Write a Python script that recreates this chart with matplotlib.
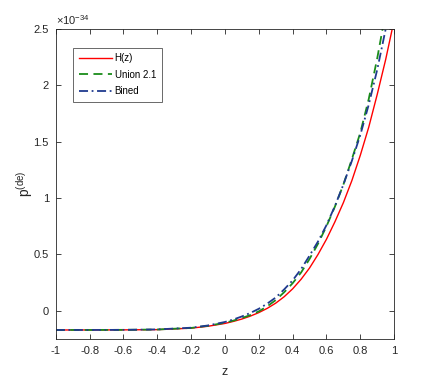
import matplotlib
matplotlib.use("Agg")
import matplotlib.pyplot as plt

plt.rcParams['font.family'] = ['Liberation Sans', 'DejaVu Sans']
plt.rcParams['mathtext.fontset'] = 'custom'
plt.rcParams['mathtext.rm'] = 'Liberation Sans'
plt.rcParams['mathtext.it'] = 'Liberation Sans'

# values (units of 1e-34)
z = [-1.0, -0.8, -0.6, -0.4, -0.2, -0.1, 0.0, 0.05, 0.1, 0.15, 0.2, 0.25, 0.3,
     0.35, 0.4, 0.45, 0.5, 0.55, 0.6, 0.65, 0.7, 0.75, 0.8, 0.85, 0.9, 0.95, 1.0]
p_hz = [-0.170, -0.170, -0.169, -0.167, -0.154, -0.137, -0.112, -0.094, -0.073,
        -0.047, -0.016, 0.022, 0.068, 0.125, 0.195, 0.28, 0.38, 0.50, 0.635,
        0.79, 0.96, 1.155, 1.38, 1.63, 1.92, 2.23, 2.58]
p_union = [-0.170, -0.170, -0.169, -0.166, -0.152, -0.133, -0.106, -0.087, -0.064,
           -0.038, -0.005, 0.04, 0.095, 0.165, 0.245, 0.34, 0.46, 0.595, 0.75,
           0.925, 1.12, 1.345, 1.58, 1.88, 2.24, 2.65, 3.1]
p_bined = [-0.170, -0.170, -0.169, -0.165, -0.150, -0.130, -0.099, -0.077, -0.05,
           -0.019, 0.018, 0.064, 0.118, 0.19, 0.27, 0.37, 0.49, 0.615, 0.76,
           0.93, 1.12, 1.33, 1.56, 1.83, 2.14, 2.50, 2.90]
labels = ['H(z)', 'Union 2.1', 'Bined']

fig = plt.figure(figsize=(4.36, 3.82), dpi=100)
ax = fig.add_axes([0.128, 0.1126, 0.776, 0.8114])

ax.plot(z, p_hz, color='#ff0000', lw=1.0, ls='-', label=labels[0])
ax.plot(z, p_union, color='#1a8c1a', lw=1.3, ls=(0, (5, 3)), label=labels[1])
ax.plot(z, p_bined, color='#1f3a8f', lw=1.3, ls=(0, (5, 2, 1, 2)), label=labels[2])

ax.set_xlim(-1, 1)
ax.set_ylim(-0.25, 2.5)
ax.set_xticks([-1, -0.8, -0.6, -0.4, -0.2, 0, 0.2, 0.4, 0.6, 0.8, 1])
ax.set_xticklabels(['-1', '-0.8', '-0.6', '-0.4', '-0.2', '0', '0.2', '0.4', '0.6', '0.8', '1'])
ax.set_yticks([0, 0.5, 1, 1.5, 2, 2.5])
ax.set_yticklabels(['0', '0.5', '1', '1.5', '2', '2.5'])
ax.tick_params(direction='in', top=True, right=True, length=3.5, width=0.6,
               labelsize=8, color='#262626', labelcolor='#262626', pad=5)
for s in ax.spines.values():
    s.set_color('#262626')
    s.set_linewidth(0.6)

ax.set_xlabel('z', fontsize=9, color='#262626', labelpad=7)
ax.set_ylabel(r'$\mathrm{p}^{(\mathrm{de})}$', fontsize=10, color='#262626', labelpad=-1)
ax.text(0.0, 1.005, r'$\times10^{-34}$', transform=ax.transAxes, fontsize=8,
        color='#262626', ha='left', va='bottom')

leg = ax.legend(loc='upper left', bbox_to_anchor=(0.05, 0.94), fontsize=7,
                frameon=True, fancybox=False, handlelength=3.4, borderpad=0.6,
                labelspacing=0.65, handletextpad=0.3, borderaxespad=0)
leg.get_frame().set_edgecolor('#262626')
leg.get_frame().set_linewidth(0.6)

fig.savefig('out.png', dpi=100)
